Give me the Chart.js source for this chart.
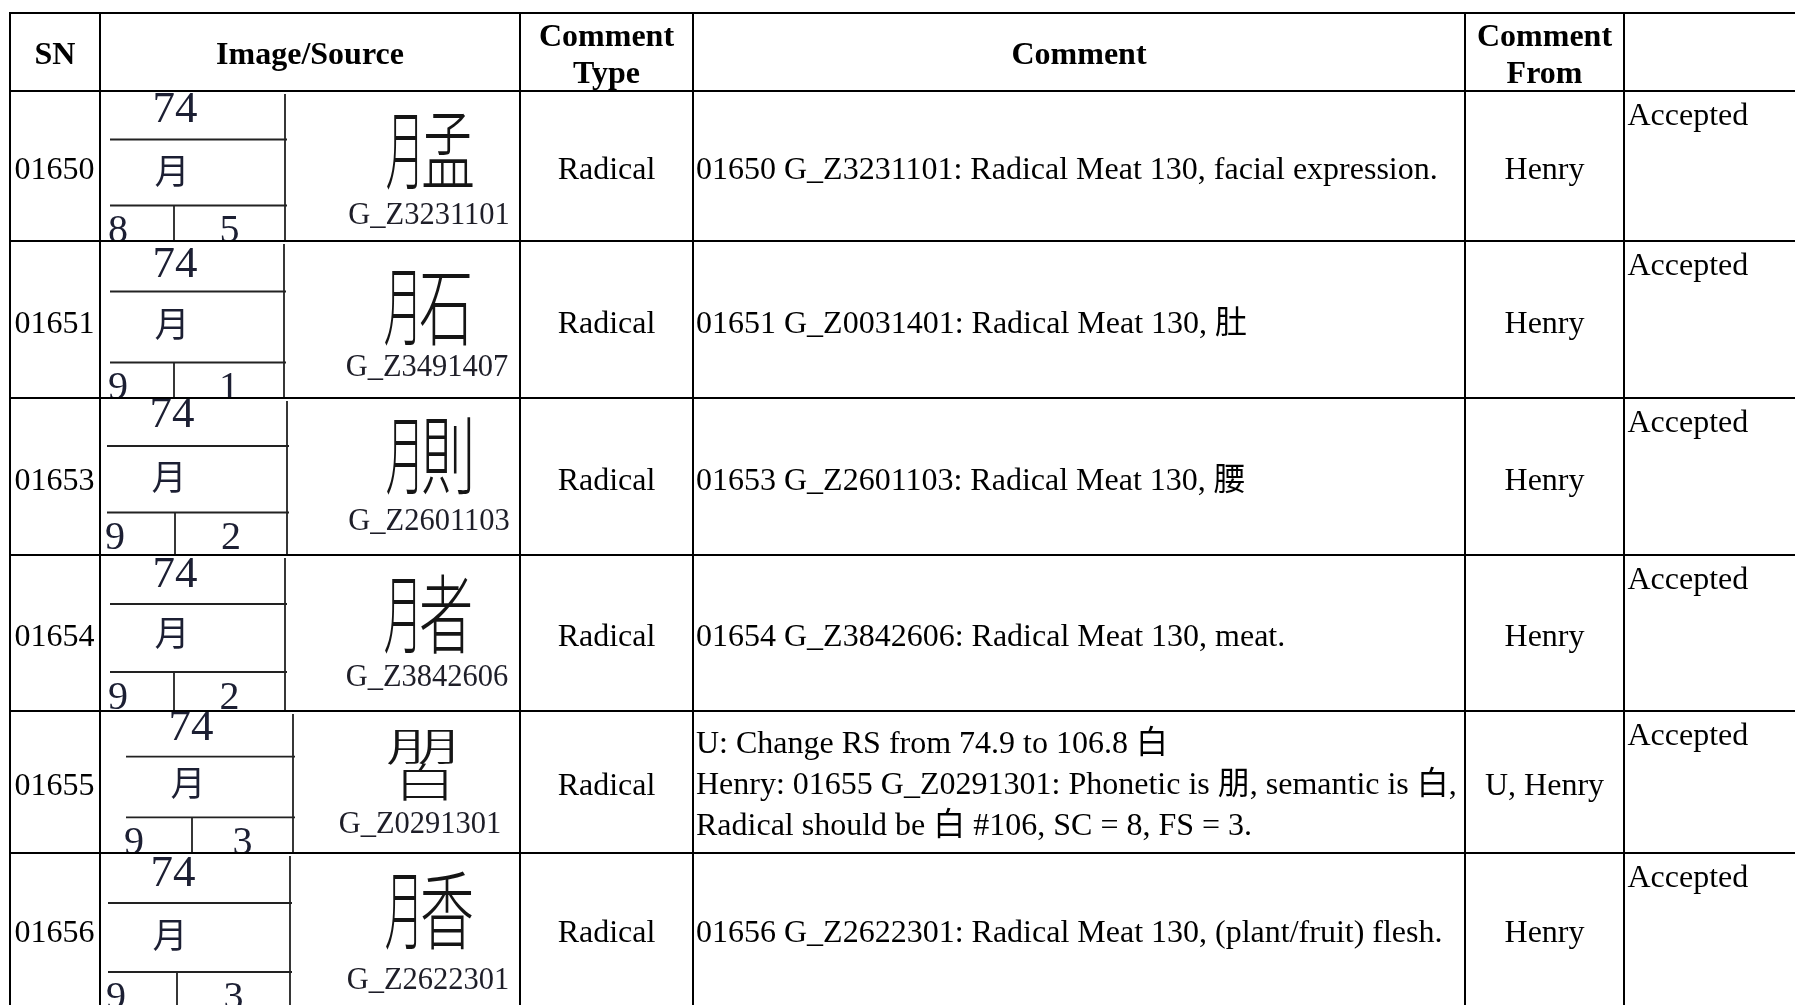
<!DOCTYPE html>
<html>
<head>
    <title>Radical comments</title>
    <meta charset="UTF-8">
    <script src="https://cdn.jsdelivr.net/npm/chart.js@4.4.1/dist/chart.umd.min.js"></script>
    <style>
        html, body { margin: 0; padding: 0; background: #fff; }
        canvas { display: block; }
    </style>
</head>
<body>
    <canvas id="myChart" width="1795" height="1005"></canvas>

    <script>
        // table content
        var headers = ['SN', 'Image/Source', 'Comment\nType', 'Comment', 'Comment\nFrom', ''];
        var snList = ['01650', '01651', '01653', '01654', '01655', '01656'];
        var sourceIds = ['G_Z3231101', 'G_Z3491407', 'G_Z2601103', 'G_Z3842606', 'G_Z0291301', 'G_Z2622301'];
        var radicalNums = ['74', '74', '74', '74', '74', '74'];
        var radicalChars = ['月', '月', '月', '月', '月', '月'];
        var strokeCounts = [['8', '5'], ['9', '1'], ['9', '2'], ['9', '2'], ['9', '3'], ['9', '3']];
        var glyphParts = [['月', '孟'], ['月', '石'], ['月', '則'], ['月', '者'], ['朋', '白'], ['月', '香']];
        var glyphShape = ['lr', 'lr', 'lr', 'lr', 'tb', 'lr'];
        var commentTypes = ['Radical', 'Radical', 'Radical', 'Radical', 'Radical', 'Radical'];
        var comments = [
            ['01650 G_Z3231101: Radical Meat 130, facial expression.'],
            ['01651 G_Z0031401: Radical Meat 130, 肚'],
            ['01653 G_Z2601103: Radical Meat 130, 腰'],
            ['01654 G_Z3842606: Radical Meat 130, meat.'],
            ['U: Change RS from 74.9 to 106.8 白',
             'Henry: 01655 G_Z0291301: Phonetic is 朋, semantic is 白,',
             'Radical should be 白 #106, SC = 8, FS = 3.'],
            ['01656 G_Z2622301: Radical Meat 130, (plant/fruit) flesh.']
        ];
        var commentFrom = ['Henry', 'Henry', 'Henry', 'Henry', 'U, Henry', 'Henry'];
        var statusList = ['Accepted', 'Accepted', 'Accepted', 'Accepted', 'Accepted', 'Accepted'];

        // layout (table units = px of the page)
        var colEdges = [10, 100, 520, 693, 1465, 1624, 1795];
        var rowEdges = [13, 91, 241, 398, 555, 711, 853, 1005];
        // image cell pieces, offsets from the row top
        var imgLayout = [
            { x0: 110, x1: 285, xs: 174, n74: 19, h1: 48.5, yue: 80, h2: 114.5, big: 59, src: 125, cx: 432 },
            { x0: 110, x1: 284, xs: 174, n74: 24, h1: 50.5, yue: 83, h2: 121.5, big: 65.5, src: 126.5, cx: 430 },
            { x0: 107, x1: 287, xs: 175, n74: 17, h1: 48, yue: 79, h2: 114.5, big: 57, src: 124, cx: 432 },
            { x0: 110, x1: 285, xs: 174, n74: 20, h1: 49, yue: 78, h2: 117, big: 59.5, src: 123, cx: 430 },
            { x0: 126, x1: 293, xs: 192, n74: 17.5, h1: 45.7, yue: 72, h2: 106.4, big: 52, src: 113.5, cx: 423 },
            { x0: 108, x1: 290, xs: 177, n74: 21, h1: 50, yue: 82, h2: 119, big: 57, src: 127.5, cx: 431 }
        ];

        var SERIF = '"Liberation Serif", "Times New Roman", "Noto Sans CJK SC", serif';
        var CJK = '"Noto Sans CJK SC", "Noto Sans CJK TC", sans-serif';

        function drawGlyph(ctx, parts, shape, cx, cy) {
            ctx.fillStyle = '#151515';
            ctx.textAlign = 'center';
            ctx.textBaseline = 'middle';
            ctx.font = '300 86px ' + CJK;
            if (shape === 'lr') {
                ctx.save();
                ctx.translate(cx - 27, cy);
                ctx.scale(0.45, 1);
                ctx.fillText(parts[0], 0, 0);
                ctx.restore();
                ctx.save();
                ctx.translate(cx + 16, cy);
                ctx.scale(0.63, 1);
                ctx.fillText(parts[1], 0, 0);
                ctx.restore();
            } else {
                ctx.font = '300 80px ' + CJK;
                ctx.save();
                ctx.translate(cx, cy - 17);
                ctx.scale(0.95, 0.5);
                ctx.fillText(parts[0], 0, 0);
                ctx.restore();
                ctx.save();
                ctx.translate(cx + 2, cy + 19);
                ctx.scale(0.78, 0.5);
                ctx.fillText(parts[1], 0, 0);
                ctx.restore();
            }
        }

        var tablePlugin = {
            id: 'tableDraw',
            beforeDraw: function (chart) {
                var ctx = chart.ctx;
                ctx.save();
                ctx.fillStyle = '#fff';
                ctx.fillRect(0, 0, chart.width, chart.height);
                ctx.restore();
            },
            afterDatasetsDraw: function (chart) {
                var ctx = chart.ctx;
                var xs = chart.scales.x, ys = chart.scales.y;
                var px = function (v) { return xs.getPixelForValue(v); };
                var py = function (v) { return ys.getPixelForValue(v); };
                var colMid = function (c) { return px((colEdges[c] + colEdges[c + 1]) / 2); };

                ctx.save();

                // header
                ctx.fillStyle = '#000';
                ctx.font = 'bold 32px ' + SERIF;
                ctx.textAlign = 'center';
                ctx.textBaseline = 'alphabetic';
                var hMid = (rowEdges[0] + rowEdges[1]) / 2;
                headers.forEach(function (h, c) {
                    var lines = h.split('\n');
                    lines.forEach(function (ln, k) {
                        var off = lines.length === 1 ? 12 : (k === 0 ? -6 : 30.5);
                        ctx.fillText(ln, colMid(c), py(hMid + off));
                    });
                });

                // body rows
                snList.forEach(function (sn, i) {
                    var top = rowEdges[i + 1], bot = rowEdges[i + 2];
                    var mid = (top + bot) / 2;
                    var L = imgLayout[i];

                    ctx.font = '32px ' + SERIF;
                    ctx.fillStyle = '#000';
                    ctx.textBaseline = 'alphabetic';

                    ctx.textAlign = 'left';
                    ctx.fillText(sn, px(14.5), py(mid + 13));

                    ctx.textAlign = 'center';
                    ctx.fillText(commentTypes[i], colMid(2), py(mid + 13));
                    ctx.fillText(commentFrom[i], colMid(4), py(mid + 13));

                    ctx.textAlign = 'left';
                    var lines = comments[i];
                    if (lines.length === 1) {
                        ctx.fillText(lines[0], px(696), py(mid + 13));
                    } else {
                        lines.forEach(function (ln, k) {
                            ctx.fillText(ln, px(696), py(top + 42 + k * 41));
                        });
                    }
                    ctx.fillText(statusList[i], px(1627.5), py(top + 34));

                    // image / source cell, clipped to its cell
                    ctx.save();
                    ctx.beginPath();
                    ctx.rect(px(colEdges[1]), py(top), px(colEdges[2]) - px(colEdges[1]), py(bot) - py(top));
                    ctx.clip();

                    ctx.strokeStyle = '#222';
                    ctx.lineWidth = 1.8;
                    ctx.beginPath();
                    ctx.moveTo(px(L.x1), py(top + 3));
                    ctx.lineTo(px(L.x1), py(bot));
                    ctx.moveTo(px(L.x0), py(top + L.h1));
                    ctx.lineTo(px(L.x1 + 2), py(top + L.h1));
                    ctx.moveTo(px(L.x0), py(top + L.h2));
                    ctx.lineTo(px(L.x1 + 2), py(top + L.h2));
                    ctx.moveTo(px(L.xs), py(top + L.h2));
                    ctx.lineTo(px(L.xs), py(bot));
                    ctx.stroke();

                    ctx.fillStyle = '#1c1f33';
                    ctx.textAlign = 'center';
                    ctx.textBaseline = 'middle';
                    ctx.font = '45px ' + SERIF;
                    ctx.fillText(radicalNums[i], px(L.x0 + 65), py(top + L.n74));
                    ctx.font = '35px ' + CJK;
                    ctx.fillText(radicalChars[i], px(L.x0 + 62), py(top + L.yue));
                    ctx.font = '40px ' + SERIF;
                    ctx.fillText(strokeCounts[i][0], px(L.x0 + 8), py(top + L.h2 + 26));
                    ctx.fillText(strokeCounts[i][1], px((L.xs + L.x1) / 2), py(top + L.h2 + 26));

                    drawGlyph(ctx, glyphParts[i], glyphShape[i], px(L.cx), py(top + L.big));

                    ctx.fillStyle = '#1e1e28';
                    ctx.font = '30.5px ' + SERIF;
                    ctx.textBaseline = 'middle';
                    ctx.fillText(sourceIds[i], px(L.cx - 3), py(top + L.src));
                    ctx.restore();
                });

                // table rules
                ctx.strokeStyle = '#000';
                ctx.lineWidth = 2;
                ctx.beginPath();
                rowEdges.slice(0, -1).forEach(function (r) {
                    ctx.moveTo(px(colEdges[0] - 1), py(r));
                    ctx.lineTo(px(colEdges[colEdges.length - 1]), py(r));
                });
                colEdges.slice(0, -1).forEach(function (c) {
                    ctx.moveTo(px(c), py(rowEdges[0] - 1));
                    ctx.lineTo(px(c), py(rowEdges[rowEdges.length - 1]));
                });
                ctx.stroke();

                ctx.restore();
            }
        };

        // one anchor point per body row, in the middle of each row
        var anchors = snList.map(function (s, i) {
            return { x: (colEdges[0] + colEdges[1]) / 2, y: (rowEdges[i + 1] + rowEdges[i + 2]) / 2 };
        });

        var ctx = document.getElementById('myChart');
        var myChart = new Chart(ctx, {
            type: 'scatter',
            data: {
                datasets: [{
                    label: 'SN',
                    data: anchors,
                    pointRadius: 0,
                    backgroundColor: 'rgba(0,0,0,0)'
                }]
            },
            options: {
                responsive: false,
                animation: false,
                layout: { padding: 0 },
                plugins: { legend: { display: false }, tooltip: { enabled: false } },
                scales: {
                    x: { type: 'linear', min: 0, max: 1795, display: false },
                    y: { type: 'linear', min: 0, max: 1005, reverse: true, display: false }
                }
            },
            plugins: [tablePlugin]
        });
    </script>
</body>
</html>
